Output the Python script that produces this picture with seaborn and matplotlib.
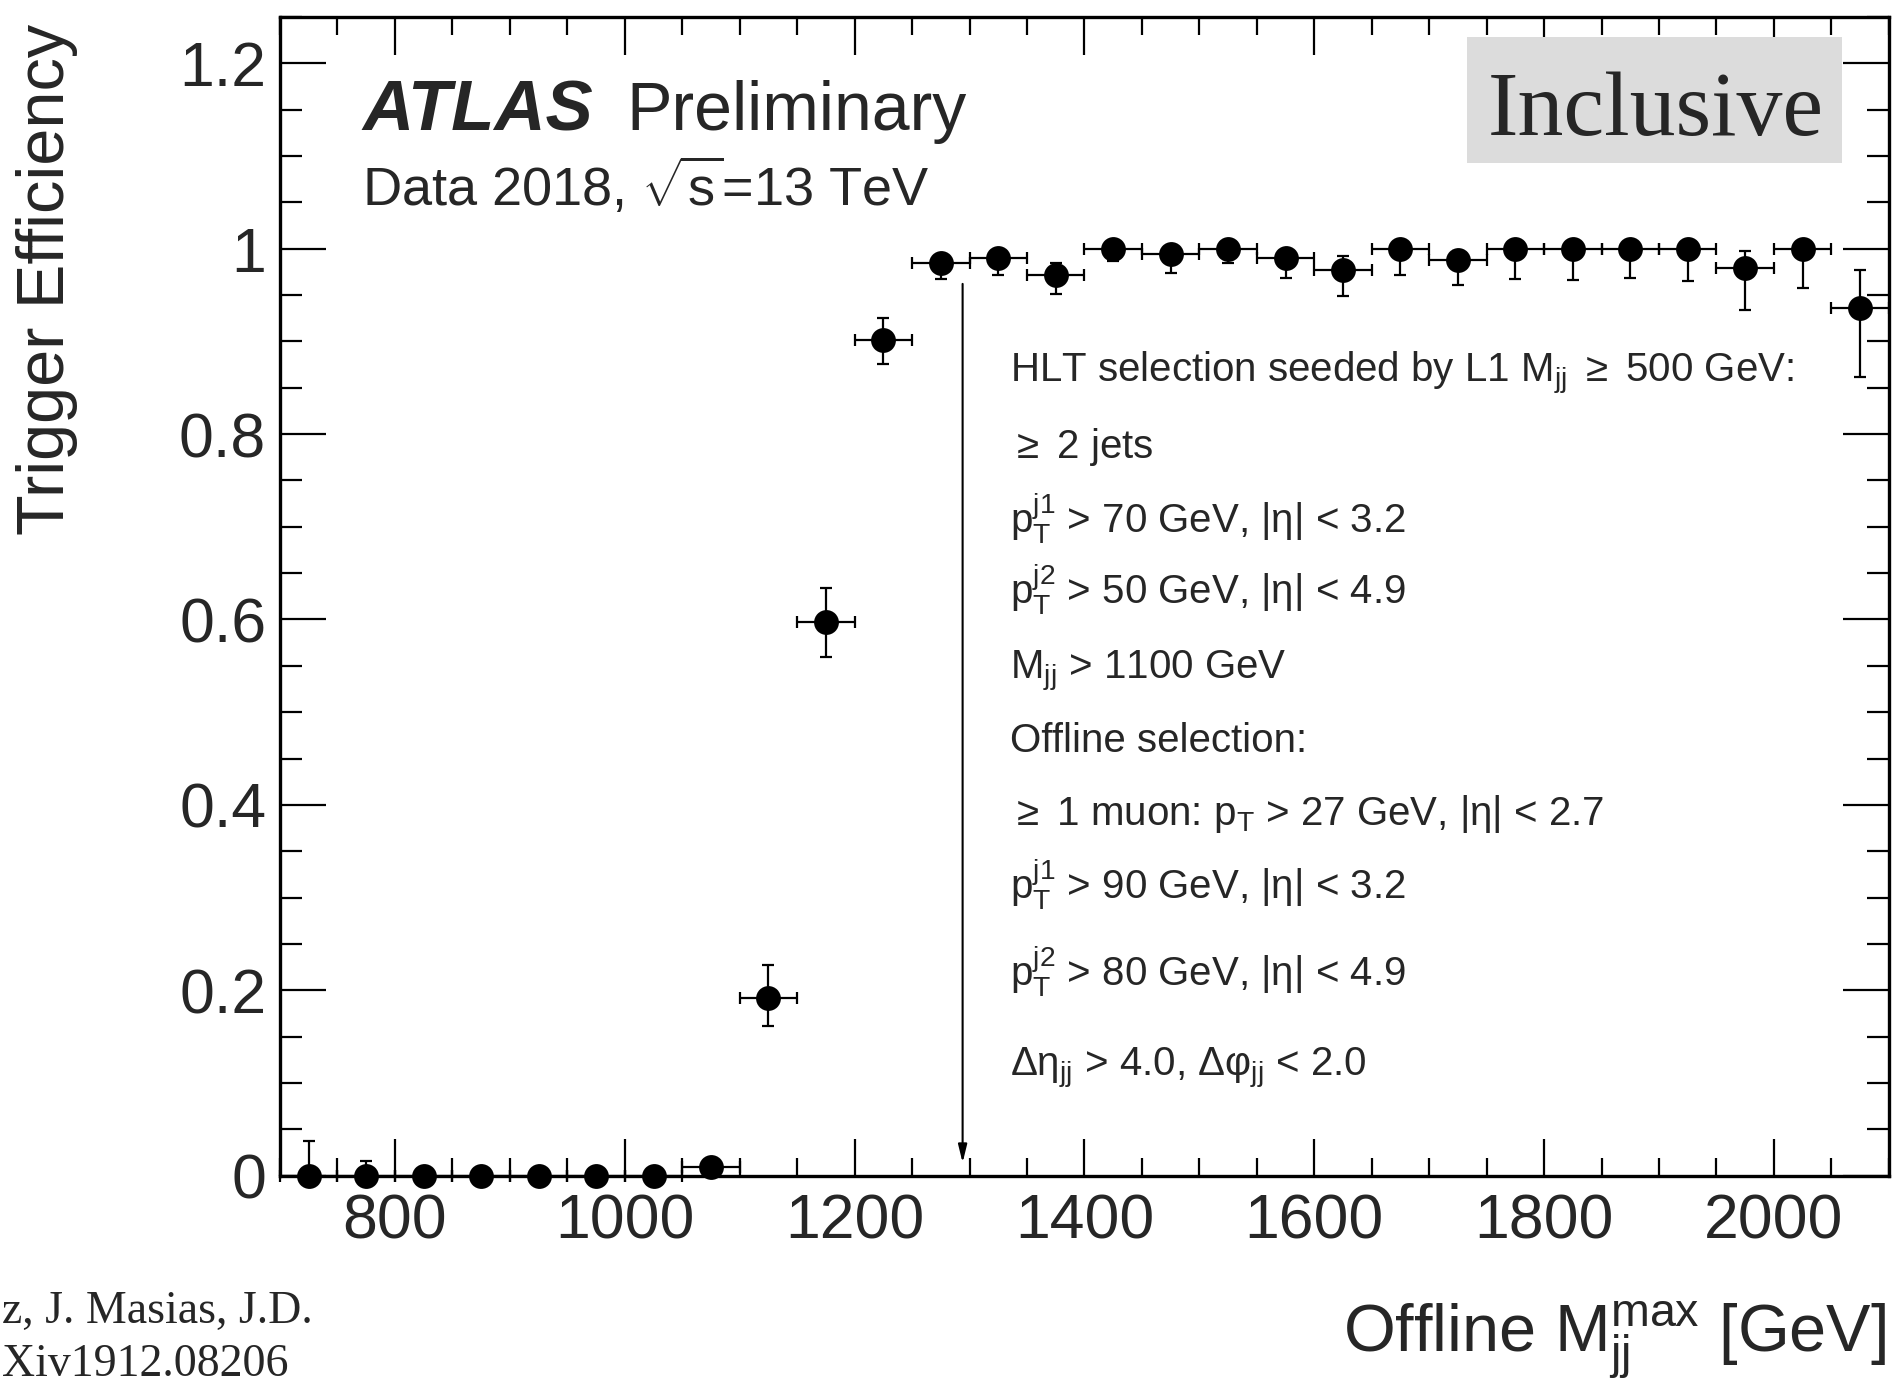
import numpy as np
import pandas as pd
import matplotlib
matplotlib.use("Agg")
import matplotlib.pyplot as plt
import seaborn as sns
from matplotlib.ticker import MultipleLocator, FixedLocator

# ---- data ----
mjj = [725, 775, 825, 875, 925, 975, 1025, 1075, 1125, 1175, 1225, 1275, 1325, 1375,
       1425, 1475, 1525, 1575, 1625, 1675, 1725, 1775, 1825, 1875, 1925, 1975, 2025, 2075]
eff = [0.0, 0.0, 0.0, 0.0, 0.0, 0.0, 0.0, 0.009, 0.192, 0.597, 0.902, 0.984, 0.990, 0.972,
       1.0, 0.994, 1.0, 0.990, 0.977, 1.0, 0.988, 1.0, 1.0, 1.0, 1.0, 0.979, 1.0, 0.936]
err_lo = [0.0, 0.0, 0.0, 0.0, 0.0, 0.0, 0.0, 0.005, 0.030, 0.038, 0.026, 0.017, 0.018, 0.021,
          0.013, 0.020, 0.015, 0.022, 0.028, 0.028, 0.027, 0.033, 0.034, 0.032, 0.035, 0.045, 0.042, 0.074]
err_hi = [0.037, 0.016, 0.0, 0.0, 0.0, 0.0, 0.0, 0.005, 0.035, 0.037, 0.023, 0.009, 0.008, 0.013,
          0.0, 0.006, 0.0, 0.008, 0.015, 0.0, 0.010, 0.0, 0.0, 0.0, 0.0, 0.018, 0.0, 0.041]
bin_half = [25] * len(mjj)

x_ticks = [800, 1000, 1200, 1400, 1600, 1800, 2000]
y_ticks = [0, 0.2, 0.4, 0.6, 0.8, 1.0, 1.2]
y_tick_labels = ["0", "0.2", "0.4", "0.6", "0.8", "1", "1.2"]

selection_lines = [
    r"HLT selection seeded by L1 M$_{jj}$ $\geq$ 500 GeV:",
    r"$\geq$ 2 jets",
    r"p$_{T}^{j1}$ > 70 GeV, |η| < 3.2",
    r"p$_{T}^{j2}$ > 50 GeV, |η| < 4.9",
    r"M$_{jj}$ > 1100 GeV",
    r"Offline selection:",
    r"$\geq$ 1 muon: p$_{T}$ > 27 GeV, |η| < 2.7",
    r"p$_{T}^{j1}$ > 90 GeV, |η| < 3.2",
    r"p$_{T}^{j2}$ > 80 GeV, |η| < 4.9",
    r"Δη$_{jj}$ > 4.0, Δφ$_{jj}$ < 2.0",
]
line_y = [0.685, 0.619, 0.555, 0.493, 0.429, 0.366, 0.303, 0.239, 0.164, 0.087]

df = pd.DataFrame({"mjj": mjj, "eff": eff})

# ---- style ----
sns.set_theme(style="ticks")
plt.rcParams["font.family"] = ["Liberation Sans", "DejaVu Sans"]
plt.rcParams["mathtext.fontset"] = "custom"
plt.rcParams["mathtext.rm"] = "Liberation Sans"
plt.rcParams["mathtext.it"] = "Liberation Sans:italic"
plt.rcParams["mathtext.bf"] = "Liberation Sans:bold"
plt.rcParams["mathtext.default"] = "regular"

fig = plt.figure(figsize=(18.96, 13.85), dpi=100)
ax = fig.add_axes([0.1477, 0.1511, 0.9962 - 0.1477, 0.9878 - 0.1511])

ax.errorbar(mjj, eff, xerr=bin_half, yerr=[err_lo, err_hi], fmt="none",
            ecolor="black", elinewidth=1.6, capsize=4, capthick=1.6, clip_on=False, zorder=3)
sns.scatterplot(data=df, x="mjj", y="eff", ax=ax, color="black", s=320,
                edgecolor="black", linewidth=0, zorder=4, clip_on=False, legend=False)

ax.set_xlim(700, 2100)
ax.set_ylim(0, 1.25)
ax.xaxis.set_major_locator(FixedLocator(x_ticks))
ax.xaxis.set_minor_locator(MultipleLocator(50))
ax.yaxis.set_major_locator(FixedLocator(y_ticks))
ax.set_yticklabels(y_tick_labels)
ax.yaxis.set_minor_locator(MultipleLocator(0.05))
ax.tick_params(axis="both", which="both", direction="in", top=True, right=True,
               color="black", width=1.6)
ax.tick_params(axis="x", which="major", length=27, labelsize=45, pad=12)
ax.tick_params(axis="x", which="minor", length=13)
ax.tick_params(axis="y", which="major", length=33, labelsize=45, pad=10)
ax.tick_params(axis="y", which="minor", length=16)
for sp in ax.spines.values():
    sp.set_linewidth(2.4)
    sp.set_color("black")
ax.set_xlabel("")
ax.set_ylabel("")

# axis titles
fig.text(0.025, 0.9825, "Trigger Efficiency", rotation=90, ha="center", va="top", fontsize=48)
fig.text(0.995, 0.0236, r"Offline M$_{jj}^{max}$ [GeV]", ha="right", va="baseline", fontsize=48)

# ATLAS label
ax.text(0.051, 0.902, "ATLAS", transform=ax.transAxes, fontsize=51, fontweight="bold",
        fontstyle="italic", ha="left", va="baseline")
ax.text(0.215, 0.902, "Preliminary", transform=ax.transAxes, fontsize=49, ha="left", va="baseline")
ax.text(0.051, 0.837, r"Data 2018, $\sqrt{s}$=13 TeV", transform=ax.transAxes, fontsize=39,
        ha="left", va="baseline")

# Inclusive box
ax.add_patch(plt.Rectangle((0.738, 0.874), 0.233, 0.109, transform=ax.transAxes,
                           facecolor="#dcdcdc", edgecolor="none", zorder=1))
ax.text(0.855, 0.898, "Inclusive", transform=ax.transAxes, fontsize=66,
        family=["Liberation Serif", "DejaVu Serif"], ha="center", va="baseline", zorder=2)

# selection text
for txt, yy in zip(selection_lines, line_y):
    ax.text(0.454, yy, txt, transform=ax.transAxes, fontsize=29, ha="left", va="baseline")

# arrow
ax.annotate("", xy=(1294, 0.014), xytext=(1294, 0.962),
            arrowprops=dict(arrowstyle="-|>,head_length=0.9,head_width=0.22",
                            color="black", lw=1.5, shrinkA=0, shrinkB=0))

# credit text (visible part at the left edge)
fig.text(0.001, 0.0448, "z, J. Masias, J.D.", ha="left", va="baseline", fontsize=33,
         family=["Liberation Serif", "DejaVu Serif"])
fig.text(0.001, 0.0065, "Xiv1912.08206", ha="left", va="baseline", fontsize=33,
         family=["Liberation Serif", "DejaVu Serif"])

fig.savefig("out.png", dpi=100)
